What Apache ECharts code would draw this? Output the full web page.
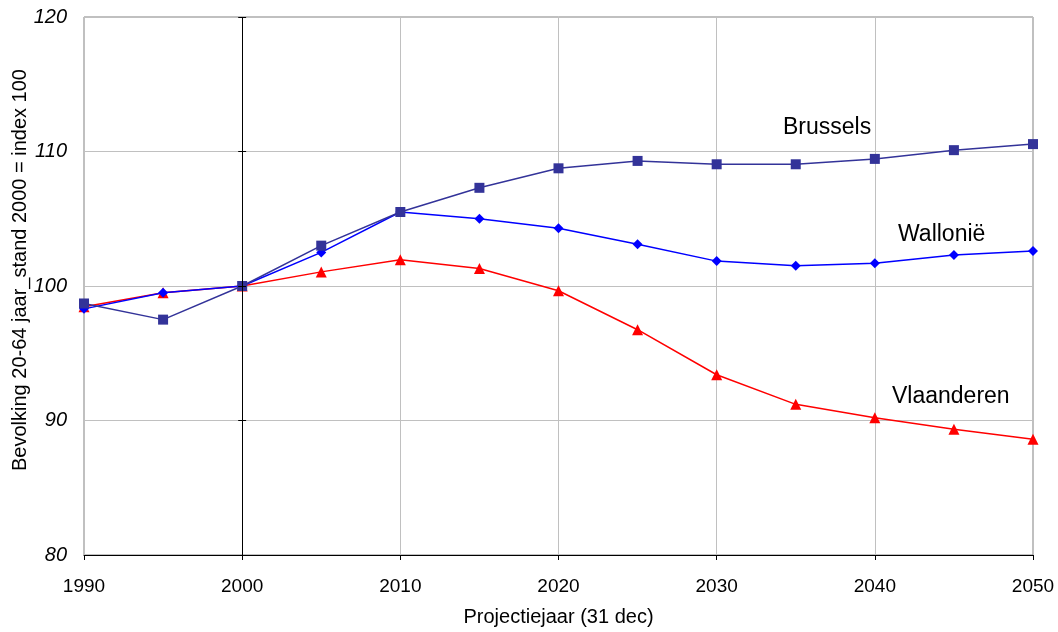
<!DOCTYPE html>
<html>
<head>
<meta charset="utf-8">
<script src="https://cdn.jsdelivr.net/npm/echarts@6/dist/echarts.min.js"></script>
<style>html,body{margin:0;padding:0;background:#fff}#c{width:1058px;height:632px}</style>
</head>
<body>
<div id="c"></div>
<script>
const years = [1990,1995,2000,2005,2010,2015,2020,2025,2030,2035,2040,2045,2050];
const brussels = [98.7,97.5,100,103.0,105.5,107.3,108.75,109.3,109.05,109.05,109.45,110.1,110.55];
const wallonie = [98.3,99.5,100,102.5,105.5,105.0,104.3,103.1,101.85,101.5,101.7,102.3,102.6];
const vlaanderen = [98.45,99.5,100,101.05,101.95,101.3,99.65,96.75,93.4,91.2,90.2,89.35,88.6];
const seriesNames = ['Vlaanderen','Wallonië','Brussels'];
const yTicks = [90,100,110,120];
const xTitle = 'Projectiejaar (31 dec)';
const yTitle = 'Bevolking 20-64 jaar_stand 2000 = index 100';

const pairs = arr => years.map((y,i)=>[y,arr[i]]);
const chart = echarts.init(document.getElementById('c'));
const font = 'Liberation Sans, Arial, sans-serif';

const tickMarks = yTicks.map(v => [{coord:[1999.75,v]},{coord:[2000.25,v]}]);

chart.setOption({
  animation:false,
  backgroundColor:'#fff',
  grid:{left:84,right:25,top:17,bottom:75,show:true,borderColor:'#808080',borderWidth:1},
  xAxis:{
    type:'value',min:1990,max:2050,interval:10,
    name:xTitle,nameLocation:'middle',nameGap:52,
    nameTextStyle:{fontFamily:font,fontSize:20,color:'#000'},
    axisLine:{lineStyle:{color:'#000',width:1}},
    axisTick:{show:true,length:5,lineStyle:{color:'#000'}},
    axisLabel:{fontFamily:font,fontSize:19,color:'#000',margin:22,formatter:v=>String(v)},
    splitLine:{show:true,lineStyle:{color:'#c0c0c0',width:1}}
  },
  yAxis:{
    type:'value',min:80,max:120,interval:10,
    axisLine:{show:false},
    axisTick:{show:false},
    axisLabel:{fontFamily:font,fontSize:20,fontStyle:'italic',color:'#000',margin:17},
    splitLine:{show:true,lineStyle:{color:'#c0c0c0',width:1}}
  },
  series:[
    {name:seriesNames[0],type:'line',data:pairs(vlaanderen),symbol:'triangle',symbolSize:11,
     lineStyle:{color:'#ff0000',width:1.5},itemStyle:{color:'#ff0000'},
     markLine:{silent:true,symbol:'none',label:{show:false},lineStyle:{color:'#000',width:1,type:'solid'},
       data:[[{coord:[2000,80]},{coord:[2000,120]}]].concat(tickMarks)}},
    {name:seriesNames[1],type:'line',data:pairs(wallonie),symbol:'diamond',symbolSize:10,
     lineStyle:{color:'#0000ff',width:1.5},itemStyle:{color:'#0000ff'}},
    {name:seriesNames[2],type:'line',data:pairs(brussels),symbol:'rect',symbolSize:10,
     lineStyle:{color:'#333399',width:1.5},itemStyle:{color:'#333399'}}
  ],
  graphic:[
    {type:'text',x:20,y:270,rotation:Math.PI/2,
     style:{text:yTitle,font:'20px '+font,fill:'#000',textAlign:'center',textVerticalAlign:'middle'}},
    {type:'text',x:783,y:128,style:{text:'Brussels',font:'23px '+font,fill:'#000',textVerticalAlign:'middle'}},
    {type:'text',x:898,y:235,style:{text:'Wallonië',font:'23px '+font,fill:'#000',textVerticalAlign:'middle'}},
    {type:'text',x:892,y:397,style:{text:'Vlaanderen',font:'23px '+font,fill:'#000',textVerticalAlign:'middle'}}
  ]
});
</script>
</body>
</html>
